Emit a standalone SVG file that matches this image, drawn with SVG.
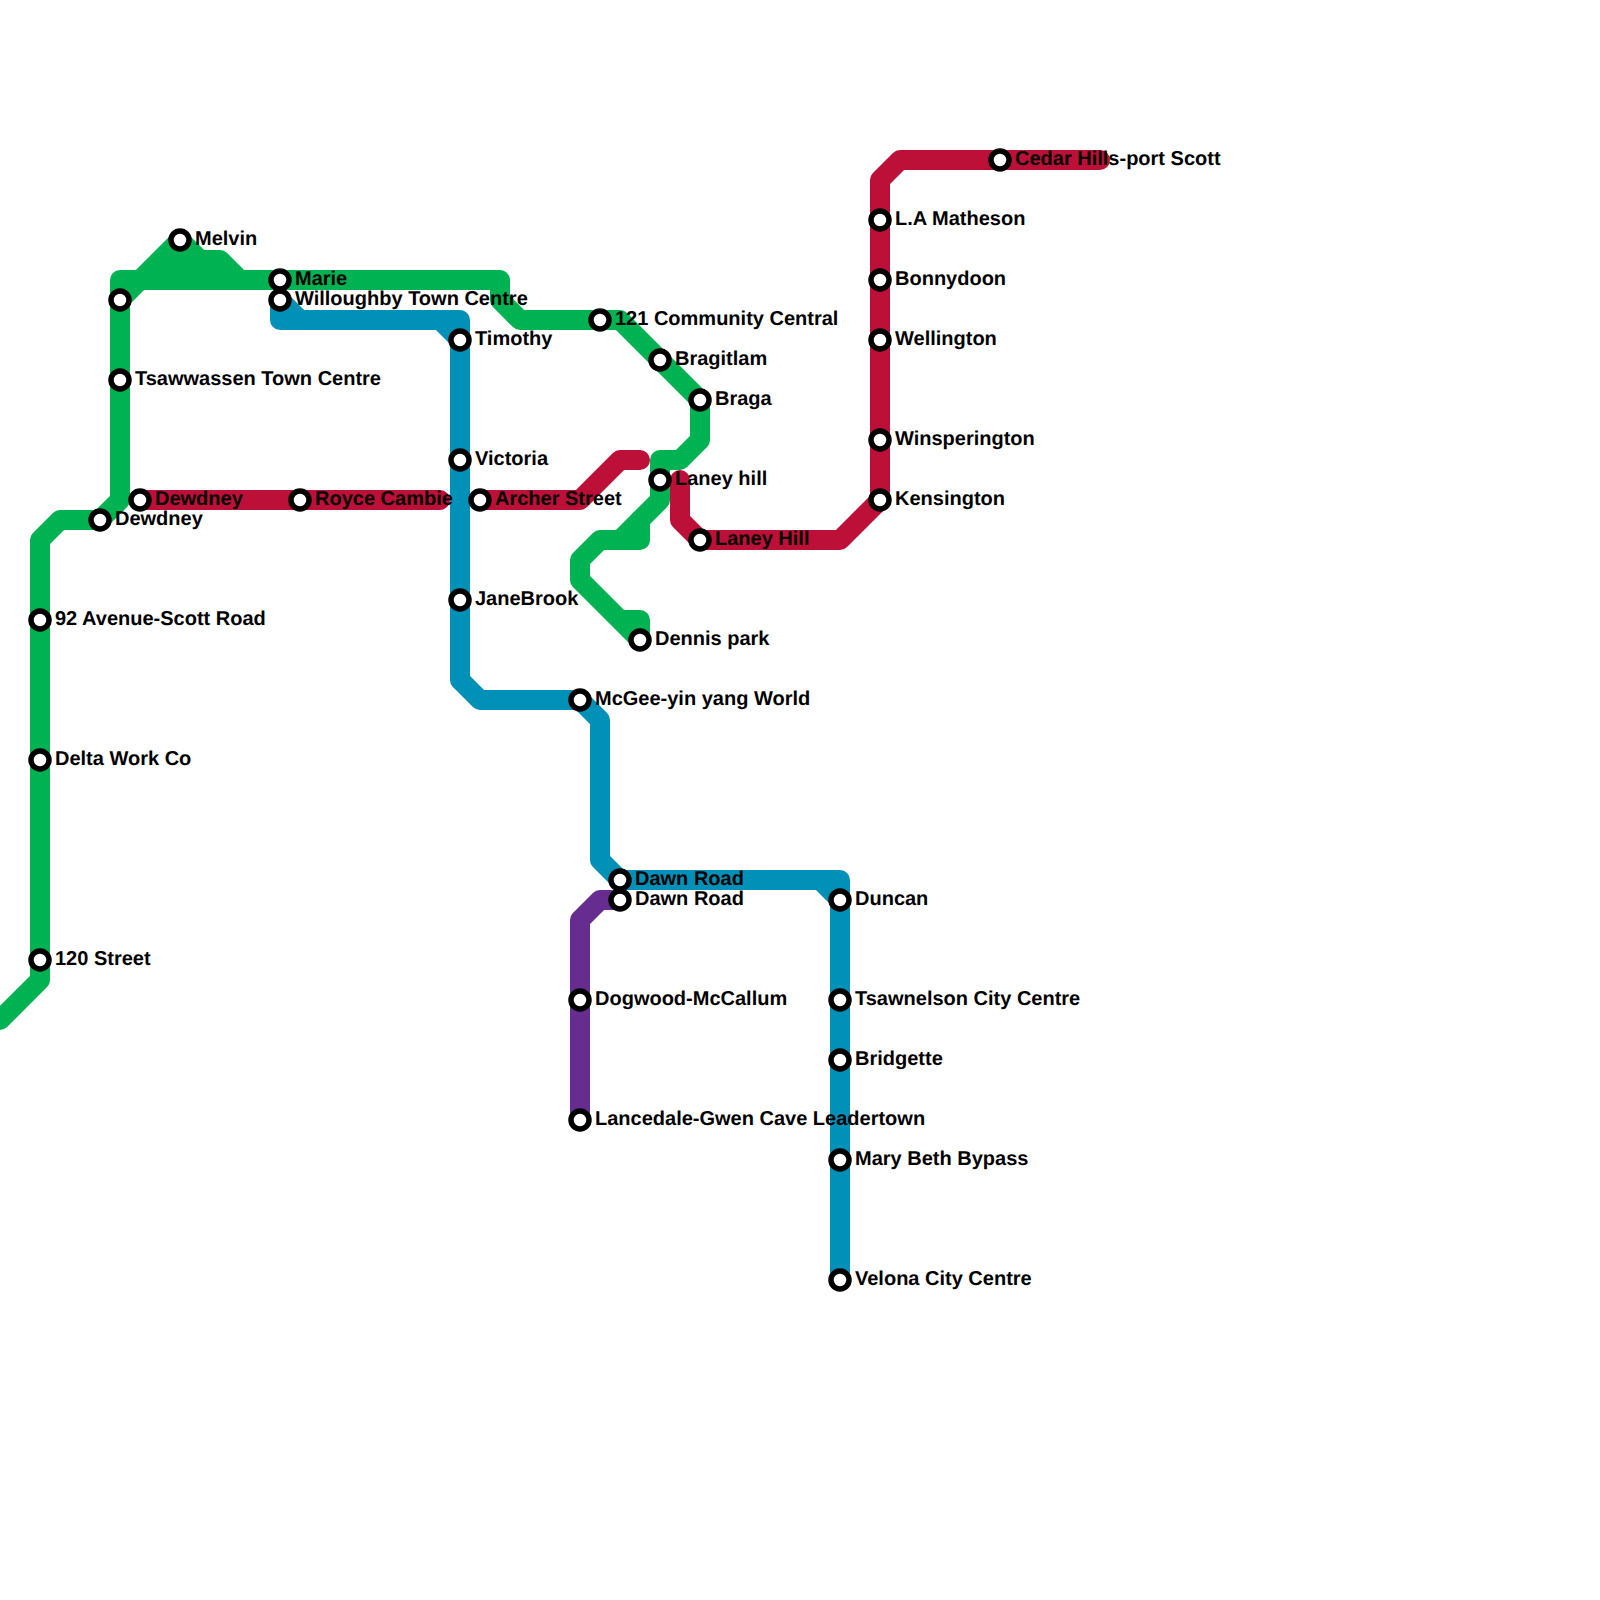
<svg xmlns="http://www.w3.org/2000/svg" width="1600" height="1600" viewBox="0 0 1600 1600">
<style>
.l{fill:none;stroke-width:20;stroke-linejoin:round;stroke-linecap:round}
.g{stroke:#00b251}.r{stroke:#bd1038}.b{stroke:#0090b8}.p{stroke:#662c90}
circle{fill:#fff;stroke:#000;stroke-width:5.5}
text{font-family:"Liberation Sans",Arial,sans-serif;font-weight:bold;font-size:20px;fill:#000;text-rendering:geometricPrecision}
</style>
<rect width="1600" height="1600" fill="#fff"/>
<g id="connectors">
<path class="l g" d="M0 1020L40 980V540L60 520H100L120 500V280H500V300L520 320H620L700 400V440L680 460H660V500L620 540"/>
<path class="l g" d="M120 300L180 240L200 260H220L240 280"/>
<path fill="#00b251" d="M150 275L180 245L200 265H230V275Z"/>
<path class="l g" d="M640 520V540H600L580 560V580L640 640V620H620"/>
<path class="l r" d="M140 500H440M480 500H580L620 460H640"/>
<path class="l r" d="M680 480V520L700 540H840L880 500V180L900 160H1100"/>
<path class="l b" d="M280 300V320H460V680L480 700H580L600 720V860L620 880H840V1280M280 300L300 320M440 320L460 340M820 880L840 900"/>
<path class="l p" d="M620 900H600L580 920V1120"/>
</g>
<g id="n1"><circle cx="180" cy="240" r="9"/><text x="195" y="245">Melvin</text></g>
<g id="n2"><circle cx="280" cy="280" r="9"/><text x="295" y="285">Marie</text></g>
<g id="n3"><circle cx="280" cy="300" r="9"/><text x="295" y="305">Willoughby Town Centre</text></g>
<g id="n4"><circle cx="120" cy="300" r="9"/></g>
<g id="n5"><circle cx="120" cy="380" r="9"/><text x="135" y="385">Tsawwassen Town Centre</text></g>
<g id="n6"><circle cx="140" cy="500" r="9"/><text x="155" y="505">Dewdney</text></g>
<g id="n7"><circle cx="100" cy="520" r="9"/><text x="115" y="525">Dewdney</text></g>
<g id="n8"><circle cx="40" cy="620" r="9"/><text x="55" y="625">92 Avenue-Scott Road</text></g>
<g id="n9"><circle cx="40" cy="760" r="9"/><text x="55" y="765">Delta Work Co</text></g>
<g id="n10"><circle cx="40" cy="960" r="9"/><text x="55" y="965">120 Street</text></g>
<g id="n11"><circle cx="300" cy="500" r="9"/><text x="315" y="505">Royce Cambie</text></g>
<g id="n12"><circle cx="460" cy="340" r="9"/><text x="475" y="345">Timothy</text></g>
<g id="n13"><circle cx="460" cy="460" r="9"/><text x="475" y="465">Victoria</text></g>
<g id="n14"><circle cx="480" cy="500" r="9"/><text x="495" y="505">Archer Street</text></g>
<g id="n15"><circle cx="460" cy="600" r="9"/><text x="475" y="605">JaneBrook</text></g>
<g id="n16"><circle cx="580" cy="700" r="9"/><text x="595" y="705">McGee-yin yang World</text></g>
<g id="n17"><circle cx="620" cy="880" r="9"/><text x="635" y="885">Dawn Road</text></g>
<g id="n18"><circle cx="620" cy="900" r="9"/><text x="635" y="905">Dawn Road</text></g>
<g id="n19"><circle cx="840" cy="900" r="9"/><text x="855" y="905">Duncan</text></g>
<g id="n20"><circle cx="840" cy="1000" r="9"/><text x="855" y="1005">Tsawnelson City Centre</text></g>
<g id="n21"><circle cx="840" cy="1060" r="9"/><text x="855" y="1065">Bridgette</text></g>
<g id="n22"><circle cx="840" cy="1160" r="9"/><text x="855" y="1165">Mary Beth Bypass</text></g>
<g id="n23"><circle cx="840" cy="1280" r="9"/><text x="855" y="1285">Velona City Centre</text></g>
<g id="n24"><circle cx="580" cy="1000" r="9"/><text x="595" y="1005">Dogwood-McCallum</text></g>
<g id="n25"><circle cx="580" cy="1120" r="9"/><text x="595" y="1125">Lancedale-Gwen Cave Leadertown</text></g>
<g id="n26"><circle cx="640" cy="640" r="9"/><text x="655" y="645">Dennis park</text></g>
<g id="n27"><circle cx="660" cy="480" r="9"/><text x="675" y="485">Laney hill</text></g>
<g id="n28"><circle cx="700" cy="540" r="9"/><text x="715" y="545">Laney Hill</text></g>
<g id="n29"><circle cx="700" cy="400" r="9"/><text x="715" y="405">Braga</text></g>
<g id="n30"><circle cx="660" cy="360" r="9"/><text x="675" y="365">Bragitlam</text></g>
<g id="n31"><circle cx="600" cy="320" r="9"/><text x="615" y="325">121 Community Central</text></g>
<g id="n32"><circle cx="880" cy="500" r="9"/><text x="895" y="505">Kensington</text></g>
<g id="n33"><circle cx="880" cy="440" r="9"/><text x="895" y="445">Winsperington</text></g>
<g id="n34"><circle cx="880" cy="340" r="9"/><text x="895" y="345">Wellington</text></g>
<g id="n35"><circle cx="880" cy="280" r="9"/><text x="895" y="285">Bonnydoon</text></g>
<g id="n36"><circle cx="880" cy="220" r="9"/><text x="895" y="225">L.A Matheson</text></g>
<g id="n37"><circle cx="1000" cy="160" r="9"/><text x="1015" y="165">Cedar Hills-port Scott</text></g>
</svg>
